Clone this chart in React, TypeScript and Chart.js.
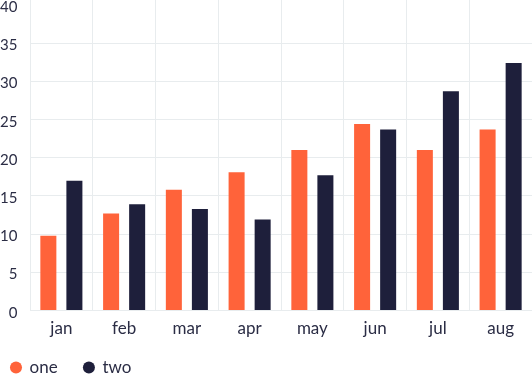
import React, { useEffect, useRef } from "react";
import { Chart, registerables } from "chart.js";

Chart.register(...registerables);

const categories = ["jan", "feb", "mar", "apr", "may", "jun", "jul", "aug"];
const seriesOne = [9.8, 12.7, 15.8, 18.1, 21.0, 24.4, 21.0, 23.7];
const seriesTwo = [17.0, 13.9, 13.3, 11.9, 17.7, 23.7, 28.7, 32.4];
const yTickStep = 5;
const yTopTick = 40;

const ORANGE = "#ff633a";
const NAVY = "#1e1f3b";
const GRID = "#e8ecee";
const TEXT = "#2b2d45";
const FONT = "Lato";

const CANVAS_W = 532;
const CANVAS_H = 392;

const legendShift = {
  id: "legendShift",
  afterLayout(chart: any) {
    const lg = chart.legend;
    if (lg) {
      lg.left -= 15.3;
      lg.right -= 15.3;
      lg.top -= 6;
      lg.bottom -= 6;
    }
  },
};

export default function App() {
  const ref = useRef<HTMLCanvasElement>(null);
  useEffect(() => {
    document.body.style.margin = "0";
    const chart = new Chart(ref.current!, {
      type: "bar",
      data: {
        labels: categories,
        datasets: [
          { label: "one", data: seriesOne, backgroundColor: ORANGE, categoryPercentage: 0.83, barPercentage: 0.615 },
          { label: "two", data: seriesTwo, backgroundColor: NAVY, categoryPercentage: 0.83, barPercentage: 0.615 },
        ],
      },
      plugins: [legendShift],
      options: {
        animation: false,
        responsive: false,
        maintainAspectRatio: false,
        layout: { padding: 0 },
        plugins: {
          tooltip: { enabled: false },
          legend: {
            position: "bottom",
            align: "start",
            labels: {
              usePointStyle: true,
              pointStyle: "circle",
              boxWidth: 10,
              boxHeight: 8.5,
              padding: 26.3,
              color: TEXT,
              font: { family: FONT, size: 17 },
            },
          },
        },
        scales: {
          x: {
            grid: { color: GRID, drawTicks: false, offset: true },
            border: { color: GRID },
            ticks: { color: TEXT, font: { family: FONT, size: 17 }, padding: 7.8 },
            afterFit: (scale: any) => {
              scale.height = 28.2;
            },
          },
          y: {
            min: 0,
            max: 40.65,
            grid: {
              color: (ctx: any) => (ctx.tick && ctx.tick.value === yTopTick ? "rgba(0,0,0,0)" : GRID),
              drawTicks: false,
            },
            border: { color: GRID },
            ticks: {
              stepSize: yTickStep,
              includeBounds: false,
              color: TEXT,
              font: { family: FONT, size: 15 },
              padding: 12.5,
              labelOffset: 2.2,
            },
            afterFit: (scale: any) => {
              scale.width = 30;
              scale.paddingTop = 0;
            },
          },
        },
      },
    });
    return () => chart.destroy();
  }, []);
  return (
    <div style={{ position: "absolute", left: 0, top: 0, width: 532, height: 374, overflow: "hidden" }}>
      <canvas
        ref={ref}
        width={CANVAS_W}
        height={CANVAS_H}
        style={{ position: "absolute", left: 0, top: 0 }}
      />
    </div>
  );
}
